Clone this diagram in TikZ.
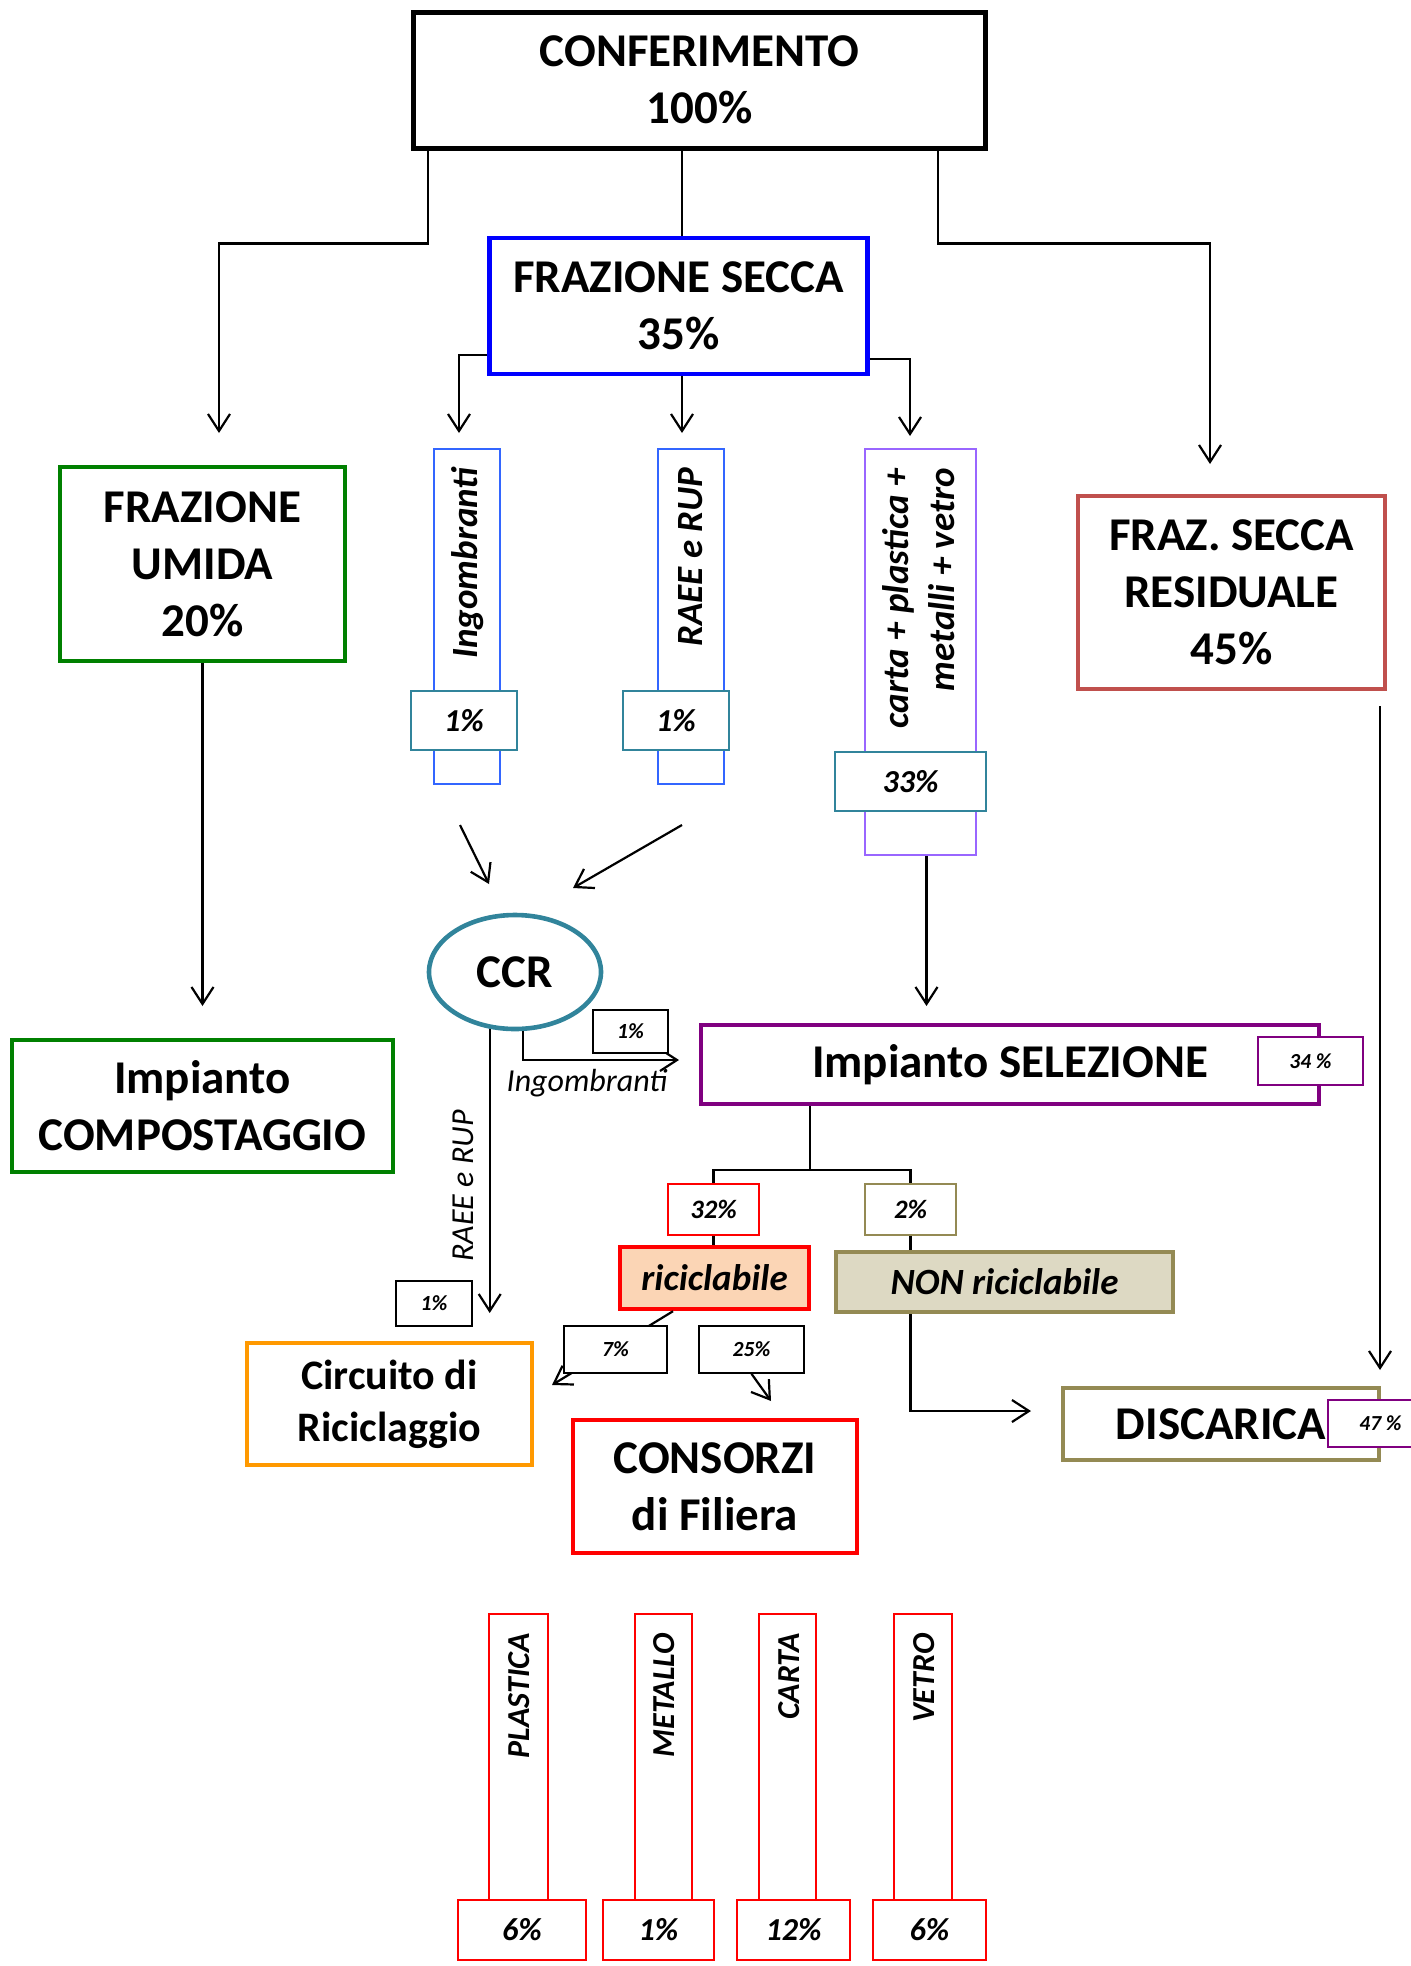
\documentclass[tikz,border=0pt]{standalone}
\usepackage{fontspec}
\setmainfont{Carlito}
\usetikzlibrary{arrows.meta,shapes.geometric}
\definecolor{secblue}{RGB}{0,0,255}
\definecolor{umgreen}{RGB}{0,128,0}
\definecolor{thinblue}{RGB}{51,102,255}
\definecolor{tealpct}{RGB}{49,132,155}
\definecolor{lilac}{RGB}{153,102,255}
\definecolor{selpurple}{RGB}{128,0,128}
\definecolor{resred}{RGB}{192,80,77}
\definecolor{discolive}{RGB}{148,138,84}
\definecolor{olivefill}{RGB}{221,217,195}
\definecolor{peach}{RGB}{251,213,181}
\definecolor{circorange}{RGB}{255,153,0}
\tikzset{
  arr/.style={-{Straight Barb[length=8.5pt,width=11pt]}, line width=1.1pt},
  bigbox/.style={draw, line width=2.2pt, align=center, inner sep=0pt,
    font=\fontsize{23.5}{28.5}\selectfont\bfseries},
  pct/.style={draw, fill=white, line width=0.8pt, inner sep=0pt,
    font=\fontsize{#1}{#1}\selectfont\bfseries\itshape},
  tallbox/.style={draw, line width=0.9pt, inner sep=0pt},
  vtext/.style={rotate=90, anchor=east, inner sep=0pt, align=right,
    font=\fontsize{#1}{23}\selectfont\bfseries\itshape},
  lbl/.style={inner sep=0pt, font=\fontsize{16}{16}\selectfont\itshape}
}
\begin{document}
\begin{tikzpicture}[x=0.5pt,y=-0.5pt]
\useasboundingbox (0,0) rectangle (1411,1966);

\node[bigbox, line width=2.5pt, minimum width=286pt, minimum height=68pt] (conf) at (699.5,80) {CONFERIMENTO\\100\%};
\node[bigbox, draw=secblue, minimum width=189pt, minimum height=68pt] (secca) at (678.5,306) {FRAZIONE SECCA\\35\%};
\node[bigbox, draw=umgreen, minimum width=142.5pt, minimum height=97pt] (umida) at (202.5,564) {FRAZIONE\\UMIDA\\20\%};
\node[bigbox, draw=umgreen, minimum width=190.5pt, minimum height=66pt] (comp) at (202.5,1106) {Impianto\\COMPOSTAGGIO};
\node[bigbox, draw=resred, minimum width=153.5pt, minimum height=96.5pt] (resid) at (1231.5,592.5) {FRAZ. SECCA\\RESIDUALE\\45\%};

\coordinate (umida-in) at (219,433);
\coordinate (resid-in) at (1210,464);
\coordinate (ingo-in) at (459,433);
\coordinate (raee-in) at (682,433);
\coordinate (carta-in) at (910,436);
\coordinate (comp-in) at (202.5,1006);
\coordinate (ingo-out) at (460,825);
\coordinate (ccr-in1) at (489,884);
\coordinate (raee-out) at (682,825);
\coordinate (ccr-in2) at (573,888);
\coordinate (sel-in) at (926,1006);
\coordinate (sel-in2) at (679,1060);
\coordinate (circ-in) at (490,1313);
\coordinate (circ-in2) at (552,1385);
\coordinate (cons-in) at (771,1401);
\coordinate (disc-in) at (1031,1411);
\coordinate (resid-out) at (1380,706);
\coordinate (disc-in2) at (1380,1370);
\coordinate (split) at (810,1170);

\draw[arr] ([xshift=8.5pt]conf.south west) -- ++(0,93) -| (umida-in);
\draw[arr] ([xshift=-25pt]conf.south east) -- ++(0,93) -| (resid-in);
\draw[line width=1.1pt] (conf.south -| raee-in) -- (secca.north -| raee-in);
\draw[arr] ([yshift=10.5pt]secca.south west) -| (ingo-in);
\draw[arr] (secca.south -| raee-in) -- (raee-in);
\draw[arr] ([yshift=8.5pt]secca.south east) -| (carta-in);
\draw[arr] (umida.south) -- (comp-in);

\node[tallbox, draw=thinblue, minimum width=33pt, minimum height=167.5pt] (ingo) at (467,616.5) {};
\node[vtext=18.5] (ingo-txt) at (468,467) {Ingombranti};
\node[pct=16, draw=tealpct, minimum width=53pt, minimum height=29.5pt] (ingo-pct) at (464,720.5) {1\%};
\node[tallbox, draw=thinblue, minimum width=33pt, minimum height=167.5pt] (raee) at (691,616.5) {};
\node[vtext=18.5] (raee-txt) at (691,467) {RAEE e RUP};
\node[pct=16, draw=tealpct, minimum width=53pt, minimum height=29.5pt] (raee-pct) at (676,720.5) {1\%};
\node[tallbox, draw=lilac, minimum width=55.5pt, minimum height=203pt] (carta) at (920.5,652) {};
\node[vtext=18.5] (carta-txt) at (919,468) {carta + plastica +\\metalli + vetro};
\node[pct=16, draw=tealpct, minimum width=75.5pt, minimum height=29.5pt] (carta-pct) at (910.5,781.5) {33\%};

\node[ellipse, draw=tealpct, line width=2.3pt, minimum width=86pt, minimum height=57pt, inner sep=0pt,
  font=\fontsize{23.5}{28}\selectfont\bfseries] (ccr) at (515,972) {CCR};
\draw[arr] (ingo-out) -- (ccr-in1);
\draw[arr] (raee-out) -- (ccr-in2);
\draw[arr] ([xshift=3pt]carta.south) -- ([xshift=3pt]carta.south |- sel-in);

\node[bigbox, draw=selpurple, minimum width=309pt, minimum height=39.5pt] (sel) at (1010,1064.5) {Impianto SELEZIONE};
\node[pct=10.7, draw=selpurple, minimum width=52.5pt, minimum height=24pt] (sel-pct) at (1310.5,1061) {34 \%};
\draw[arr] (ccr.278) |- (sel-in2);
\node[pct=10.8, draw=black, minimum width=37.5pt, minimum height=21.5pt] (ccr-pct) at (630.5,1031.5) {1\%};
\node[lbl] (ingo-lbl) at (587,1083) {Ingombranti};
\draw[arr] (ccr.246) -- (ccr.246 |- circ-in);
\node[lbl, rotate=90] (raee-lbl) at (463,1186) {RAEE e RUP};
\node[pct=10.8, draw=black, minimum width=38pt, minimum height=22.5pt] (circ-pct) at (434,1303.5) {1\%};

\node[pct=13.3, draw=red, minimum width=45.5pt, minimum height=25.5pt] (pct32) at (713.5,1209.5) {32\%};
\node[pct=13.3, draw=discolive, minimum width=45.5pt, minimum height=25.5pt] (pct2) at (910.5,1209.5) {2\%};
\node[draw=red, fill=peach, line width=2.2pt, minimum width=94.5pt, minimum height=31pt, inner sep=0pt,
  font=\fontsize{18.5}{20}\selectfont\bfseries\itshape] (ricic) at (714.5,1278) {riciclabile};
\node[draw=discolive, fill=olivefill, line width=2.2pt, minimum width=168.5pt, minimum height=30pt, inner sep=0pt,
  font=\fontsize{18.5}{20}\selectfont\bfseries\itshape] (nonric) at (1004.5,1282) {NON riciclabile};
\draw[line width=1.1pt] (sel.south -| split) -- (split) -| (pct32.north);
\draw[line width=1.1pt] (split) -| (pct2.north);
\draw[line width=1.1pt] (pct32.south) -- (pct32.south |- ricic.north);
\draw[line width=1.1pt] (pct2.south) -- (pct2.south |- nonric.north);

\node[bigbox, draw=circorange, minimum width=142.5pt, minimum height=61pt,
  font=\fontsize{21}{26}\selectfont\bfseries] (circ) at (389.5,1404) {Circuito di\\Riciclaggio};
\node[bigbox, draw=red, minimum width=142pt, minimum height=66.5pt] (cons) at (715,1486.5) {CONSORZI\\di Filiera};
\draw[arr] ([xshift=-20.75pt]ricic.south) -- (circ-in2);
\node[pct=10.8, draw=black, minimum width=51.5pt, minimum height=23.5pt] (pct7) at (615.5,1349.5) {7\%};
\node[pct=10.8, draw=black, minimum width=52.5pt, minimum height=23.5pt] (pct25) at (751.5,1349.5) {25\%};
\draw[arr] (pct25.south) -- (cons-in);

\node[bigbox, draw=discolive, minimum width=158pt, minimum height=36pt] (disc) at (1221,1424) {DISCARICA};
\node[pct=10.7, draw=selpurple, minimum width=52.5pt, minimum height=23.5pt] (disc-pct) at (1380.5,1423.5) {47 \%};
\draw[arr] (pct2.south |- nonric.south) |- (disc-in);
\draw[arr] (resid-out) -- (disc-in2);

\node[tallbox, draw=red, line width=1.1pt, minimum width=29.5pt, minimum height=143pt] (plastica) at (518.5,1757) {};
\node[vtext=16] (plastica-txt) at (519,1633) {PLASTICA};
\node[pct=16, draw=red, line width=1.1pt, minimum width=64pt, minimum height=30pt] (plastica-pct) at (522,1930) {6\%};
\node[tallbox, draw=red, line width=1.1pt, minimum width=28.5pt, minimum height=143pt] (metallo) at (663.5,1757) {};
\node[vtext=16] (metallo-txt) at (664,1633) {METALLO};
\node[pct=16, draw=red, line width=1.1pt, minimum width=55.5pt, minimum height=30pt] (metallo-pct) at (658.5,1930) {1\%};
\node[tallbox, draw=red, line width=1.1pt, minimum width=28.5pt, minimum height=143pt] (cartab) at (787.5,1757) {};
\node[vtext=16] (cartab-txt) at (789,1633) {CARTA};
\node[pct=16, draw=red, line width=1.1pt, minimum width=56.5pt, minimum height=30pt] (cartab-pct) at (793.5,1930) {12\%};
\node[tallbox, draw=red, line width=1.1pt, minimum width=29pt, minimum height=143pt] (vetro) at (923,1757) {};
\node[vtext=16] (vetro-txt) at (924,1633) {VETRO};
\node[pct=16, draw=red, line width=1.1pt, minimum width=56.5pt, minimum height=30pt] (vetro-pct) at (929.5,1930) {6\%};
\end{tikzpicture}
\end{document}
